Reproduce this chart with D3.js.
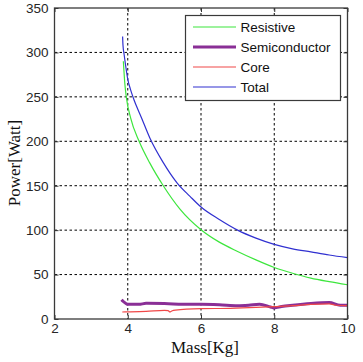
<!DOCTYPE html>
<html><head><meta charset="utf-8">
<script src="https://cdn.jsdelivr.net/npm/d3@7"></script>
<style>body{margin:0;background:#fff}svg{display:block}</style>
</head><body>
<svg id="c" width="363" height="362"></svg>
<script>
const xTicks=[2,4,6,8,10];
const yTicks=[0,50,100,150,200,250,300,350];
const seriesNames=["Resistive","Semiconductor","Core","Total"];
const resistiveX=[3.88,3.92,3.96,4.08,4.31,4.6,4.97,5.42,6.0,6.5,7.0,7.5,8.0,8.5,9.0,9.5,10.0];
const resistiveY=[290,265,250,226,200,175.7,150,124,100.5,86.5,76,66.5,58,51.5,46,42,38.5];
const semiX=[3.83,3.87,3.95,4.0,4.3,4.5,5.0,5.5,6.0,6.5,7.0,7.3,7.6,7.9,8.0,8.2,8.5,9.0,9.5,9.8,10.0];
const semiY=[21.7,20,17.5,16.5,16.5,17.6,17.5,16.5,16.5,16,15,15.5,16.5,13.5,12.5,14,15.5,17.5,18.5,15.5,15.5];
const coreX=[3.85,4.0,4.5,5.0,5.1,5.15,5.2,5.3,6.0,6.8,7.5,8.0,8.5,9.0,9.5,9.7,10.0];
const coreY=[7.9,8,8.5,9.7,9.5,8,9,10,11.6,12,13,14,15,16.5,17,15.5,15];
const totalX=[3.86,3.87,3.9,3.95,4.0,4.07,4.15,4.38,4.6,4.97,5.35,5.7,6.0,6.5,7.0,7.5,8.0,8.5,9.0,9.5,10.0];
const totalY=[318,308,298,283,270,259,249,226,204,176,153,138,126,112,100,91,84,79,75.5,72,69];

const colors={Resistive:"#3de63d",Semiconductor:"#8a2f96",Core:"#f04848",Total:"#3030d0"};
const widths={Resistive:1.2,Semiconductor:3,Core:1.2,Total:1.2};
const data={
  Resistive:resistiveX.map((x,i)=>[x,resistiveY[i]]),
  Semiconductor:semiX.map((x,i)=>[x,semiY[i]]),
  Core:coreX.map((x,i)=>[x,coreY[i]]),
  Total:totalX.map((x,i)=>[x,totalY[i]])
};

const L=54.5,R=347.5,T=8,B=319;
const svg=d3.select("#c");
const x=d3.scaleLinear().domain([2,10]).range([L,R]);
const y=d3.scaleLinear().domain([0,350]).range([B,T]);

// grid
const grid=svg.append("g");
grid.selectAll(".gx").data(xTicks.filter(v=>v>2&&v<10)).enter().append("line")
 .attr("x1",d=>x(d)).attr("x2",d=>x(d)).attr("y1",T).attr("y2",B)
 .attr("stroke","#000").attr("stroke-width",1).attr("stroke-dasharray","2.5,2.5");
grid.selectAll(".gy").data(yTicks.filter(v=>v>0&&v<350)).enter().append("line")
 .attr("x1",L).attr("x2",R).attr("y1",d=>y(d)).attr("y2",d=>y(d))
 .attr("stroke","#000").attr("stroke-width",1).attr("stroke-dasharray","2.5,2.5");

// series
const line=d3.line().x(d=>x(d[0])).y(d=>y(d[1])).curve(d3.curveMonotoneX);
["Resistive","Total","Semiconductor","Core"].forEach(n=>{
  svg.append("path").datum(data[n]).attr("d",line).attr("fill","none")
   .attr("stroke",colors[n]).attr("stroke-width",widths[n]).attr("stroke-linejoin","round");
});

// axes
const font="'Liberation Sans',Arial,sans-serif";
const ax=svg.append("g").attr("transform",`translate(0,${B})`)
 .call(d3.axisBottom(x).tickValues(xTicks).tickSizeInner(-4).tickSizeOuter(0).tickPadding(4));
const ay=svg.append("g").attr("transform",`translate(${L},0)`)
 .call(d3.axisLeft(y).tickValues(yTicks).tickSizeInner(-4).tickSizeOuter(0).tickPadding(6));
const at=svg.append("g").attr("transform",`translate(0,${T})`)
 .call(d3.axisTop(x).tickValues(xTicks).tickSizeInner(-4).tickSizeOuter(0).tickFormat(""));
const ar=svg.append("g").attr("transform",`translate(${R},0)`)
 .call(d3.axisRight(y).tickValues(yTicks).tickSizeInner(-4).tickSizeOuter(0).tickFormat(""));
[ax,ay,at,ar].forEach(g=>{
  g.select(".domain").remove();
  g.selectAll("line").attr("stroke","#333");
  g.selectAll("text").attr("font-family",font).attr("font-size","13.5px").attr("fill","#262626");
});
svg.append("rect").attr("x",L).attr("y",T).attr("width",R-L).attr("height",B-T)
 .attr("fill","none").attr("stroke","#3a3a3a").attr("stroke-width",1.3);

// axis titles
svg.append("text").attr("x",205).attr("y",353).attr("text-anchor","middle")
 .attr("font-family","'Liberation Serif','Times New Roman',serif").attr("font-size","17px").attr("fill","#111").text("Mass[Kg]");
svg.append("text").attr("transform","translate(20,163) rotate(-90)").attr("text-anchor","middle")
 .attr("font-family","'Liberation Serif','Times New Roman',serif").attr("font-size","17px").attr("fill","#111").text("Power[Watt]");

// legend
const lg=svg.append("g");
lg.append("rect").attr("x",185.5).attr("y",15.5).attr("width",155).attr("height",85)
 .attr("fill","#fff").attr("stroke","#3a3a3a").attr("stroke-width",1.2);
const ly=d3.scalePoint().domain(seriesNames).range([27,87]);
seriesNames.forEach(n=>{
  lg.append("line").attr("x1",193).attr("x2",236).attr("y1",ly(n)).attr("y2",ly(n))
   .attr("stroke",colors[n]).attr("stroke-width",widths[n]);
  lg.append("text").attr("x",240.5).attr("y",ly(n)).attr("dy","0.35em")
   .attr("font-family",font).attr("font-size","13.5px").attr("fill","#111").text(n);
});
</script>
</body></html>
